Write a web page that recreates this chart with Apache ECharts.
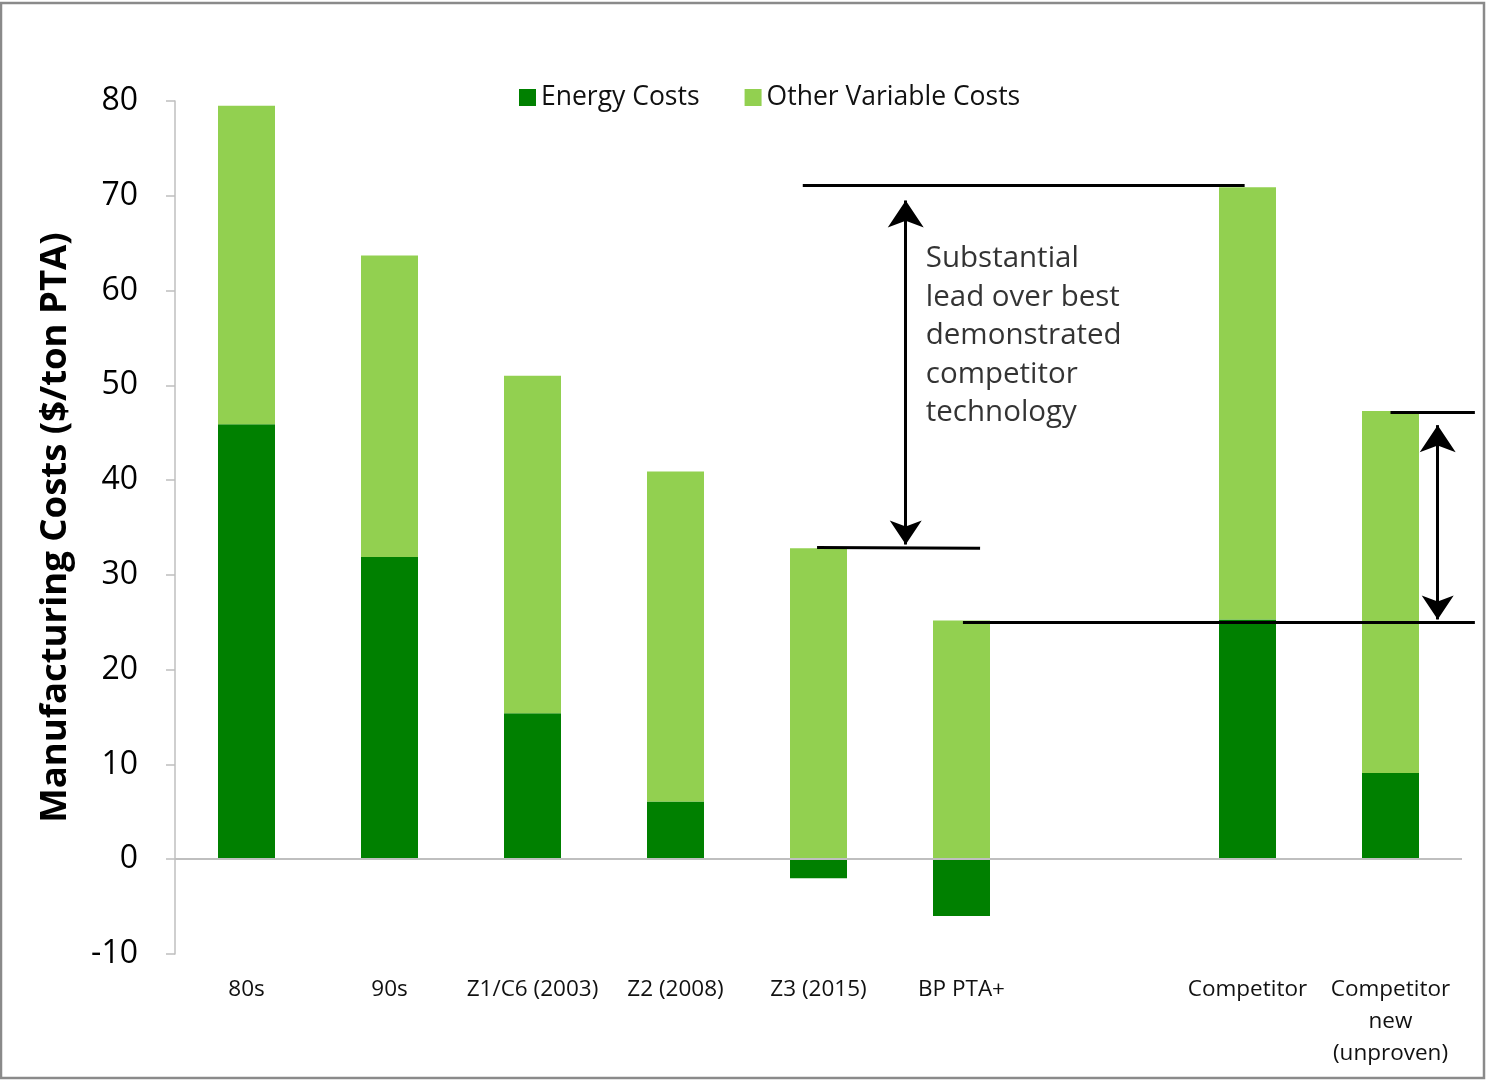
<!DOCTYPE html>
<html>
<head>
<meta charset="utf-8">
<title>PTA Manufacturing Costs</title>
<script src="https://cdn.jsdelivr.net/npm/echarts@6/dist/echarts.min.js"></script>
<style>
  html, body { margin: 0; padding: 0; background: #fff; }
  #chart { width: 1487px; height: 1081px; }
</style>
</head>
<body>
<div id="chart"></div>
<script>
// Technology generations (blank slot separates own plants from competitors)
const categories = ['80s', '90s', 'Z1/C6 (2003)', 'Z2 (2008)', 'Z3 (2015)', 'BP PTA+', '', 'Competitor', 'Competitor\nnew\n(unproven)'];

// $/ton PTA
const energyCosts = [45.9, 31.9, 15.4, 6.1, -2.0, -6.0, null, 25.3, 9.1];
const otherVariableCosts = [33.6, 31.8, 35.6, 34.8, 32.8, 25.2, null, 45.6, 38.2];

const yTicks = { min: -10, max: 80, interval: 10 };

// Reference levels, in category units along a continuous helper axis (slot i spans i..i+1)
const levelLines = [
  [[4.39, 71.1], [7.48, 71.1]],   // best demonstrated competitor
  [[4.49, 32.9], [5.63, 32.8]],   // Z3 (2015)
  [[5.51, 25.0], [9.09, 25.0]],   // BP PTA+
  [[8.50, 47.15], [9.09, 47.15]]  // unproven competitor
];
const gapArrows = [
  [[5.11, 33.2], [5.11, 69.5]],
  [[8.83, 25.3], [8.83, 45.8]]
];
const noteText = 'Substantial\nlead over best\ndemonstrated\ncompetitor\ntechnology';
const notePos = [5.25, 65.4];

const FONT = '"Open Sans", "Noto Sans", sans-serif';
const DARK = '#008000';
const LIGHT = '#92D050';
const AXIS = '#BFBFBF';

const chart = echarts.init(document.getElementById('chart'));

chart.setOption({
  animation: false,
  textStyle: { fontFamily: FONT },
  graphic: [{
    type: 'rect',
    shape: { x: 1, y: 3, width: 1483, height: 1075 },
    style: { fill: 'none', stroke: '#8a8a8a', lineWidth: 2.5 },
    silent: true
  }],
  legend: {
    left: 514,
    top: 79,
    itemWidth: 17,
    itemHeight: 17,
    itemGap: 45,
    icon: 'rect',
    textStyle: { fontFamily: FONT, fontSize: 26.5, color: '#111', padding: [0, 0, 0, 0] },
    data: ['Energy Costs', 'Other Variable Costs']
  },
  grid: { left: 175, right: 25, top: 101, bottom: 127, containLabel: false },
  xAxis: [{
    type: 'category',
    data: categories,
    axisLine: { show: false, onZero: false },
    axisTick: { show: false },
    axisLabel: {
      interval: 0,
      margin: 20,
      fontFamily: FONT,
      fontSize: 22.5,
      lineHeight: 32,
      color: '#111'
    }
  }, {
    type: 'value',
    min: 0,
    max: 9,
    show: false
  }],
  yAxis: {
    type: 'value',
    min: yTicks.min,
    max: yTicks.max,
    interval: yTicks.interval,
    name: 'Manufacturing Costs ($/ton PTA)',
    nameLocation: 'middle',
    nameRotate: 90,
    nameGap: 101,
    nameTextStyle: { fontFamily: FONT, fontSize: 36.5, fontWeight: 'bold', color: '#000' },
    axisLine: { show: true, lineStyle: { color: AXIS, width: 1.5 } },
    axisTick: { show: true, inside: false, length: 9, lineStyle: { color: AXIS, width: 1.5 } },
    axisLabel: { margin: 37, fontFamily: FONT, fontSize: 32, color: '#000', padding: [5, 0, 0, 0] },
    splitLine: { show: false }
  },
  series: [
    {
      name: 'Energy Costs',
      type: 'bar',
      stack: 'cost',
      barWidth: 57,
      itemStyle: { color: DARK },
      data: energyCosts
    },
    {
      name: 'Other Variable Costs',
      type: 'bar',
      stack: 'cost',
      barWidth: 57,
      itemStyle: { color: LIGHT },
      data: otherVariableCosts,
      markLine: {
        silent: true,
        symbol: 'none',
        label: { show: false },
        lineStyle: { color: AXIS, width: 2, type: 'solid' },
        data: [{ yAxis: 0 }],
        z: 5
      }
    },
    {
      type: 'lines',
      coordinateSystem: 'cartesian2d',
      xAxisIndex: 1,
      yAxisIndex: 0,
      silent: true,
      z: 10,
      clip: false,
      symbol: 'none',
      lineStyle: { color: '#000', width: 3, opacity: 1 },
      data: levelLines.map(c => ({ coords: c }))
    },
    {
      type: 'lines',
      coordinateSystem: 'cartesian2d',
      xAxisIndex: 1,
      yAxisIndex: 0,
      silent: true,
      z: 10,
      clip: false,
      symbol: ['arrow', 'arrow'],
      symbolSize: [24, 27],
      lineStyle: { color: '#000', width: 3, opacity: 1 },
      data: gapArrows.map(c => ({ coords: c }))
    },
    {
      type: 'scatter',
      xAxisIndex: 1,
      yAxisIndex: 0,
      silent: true,
      symbolSize: 0,
      z: 10,
      label: {
        show: true,
        position: [0, 0],
        align: 'left',
        verticalAlign: 'top',
        formatter: noteText,
        fontFamily: FONT,
        fontSize: 29.5,
        lineHeight: 38.5,
        color: '#000'
      },
      data: [notePos]
    }
  ]
});
</script>
</body>
</html>
